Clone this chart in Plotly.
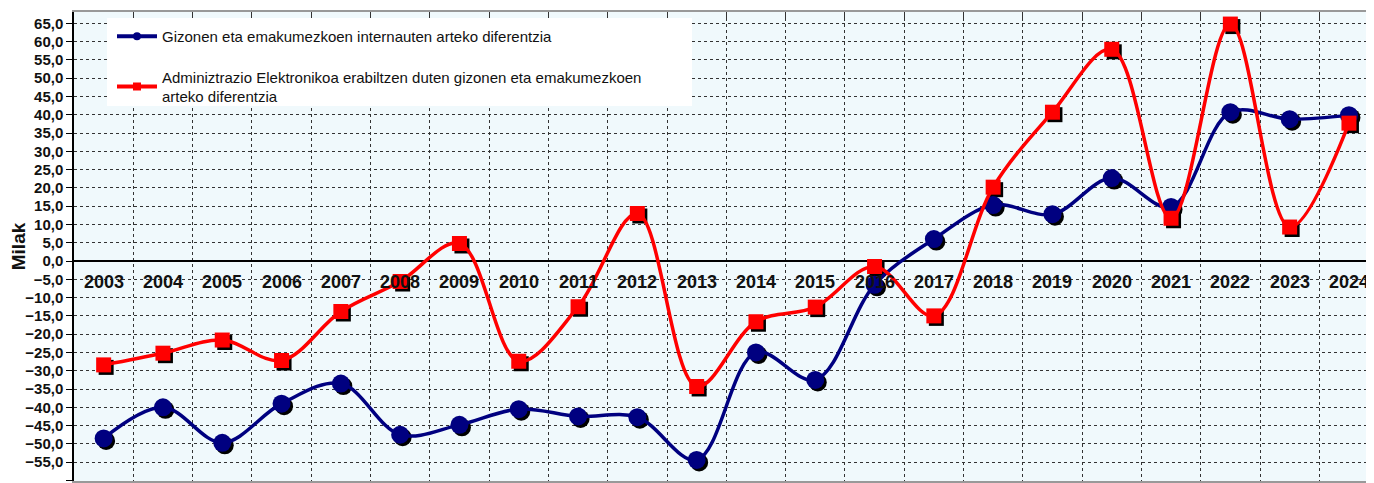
import plotly.graph_objects as go

# ---------------------------------
# Data
# ---------------------------------

years = [str(y) for y in range(2003, 2025)]

internauts_diff = [
    -48.5, -40.0, -49.7, -39.0, -33.5, -47.5, -44.8, -40.5, -42.5, -42.7, -54.4,
    -25.0, -32.5, -6.5, 6.0, 15.3, 12.8, 22.7, 14.8, 40.7, 38.8, 39.9
]

eadmin_diff = [
    -28.4, -25.2, -21.6, -27.2, -13.8, -5.6, 4.8, -27.4, -12.5, 13.0, -34.3,
    -16.6, -12.6, -1.5, -15.0, 20.2, 40.7, 57.9, 11.7, 64.8, 9.3, 37.7
]

name_internauts = "Gizonen eta emakumezkoen internauten arteko diferentzia"
name_eadmin = ("Adminiztrazio Elektronikoa erabiltzen duten gizonen eta emakumezkoen"
               "<br>arteko diferentzia")

BLUE = "#000080"
RED = "#FF0000"
FONT = "Liberation Sans"

# ---------------------------------
# Layout geometry (page pixels; the page body adds an 8px offset)
# ---------------------------------

OFF = 8
PAGE_W, PAGE_H = 1374, 483
W, H = PAGE_W - OFF, PAGE_H - OFF
plot_left, plot_top, plot_bottom = 74, 12, 481

M_L = plot_left - OFF
M_T = plot_top - OFF
M_B = PAGE_H - plot_bottom
M_R = 0
plot_w = W - M_L - M_R
plot_h = H - M_T - M_B

cat_px = 59.3
x_range = [-0.5, -0.5 + plot_w / cat_px]
y_range = [-60.15, 68.1]
unit_px = plot_h / (y_range[1] - y_range[0])

shadow_px = 2.5
dx = shadow_px / cat_px
dy = shadow_px / unit_px

fig = go.Figure()

# shadows under the markers (own axes, shifted a couple of pixels)
for vals, sym, size in [(internauts_diff, "circle", 18), (eadmin_diff, "square", 15)]:
    fig.add_trace(go.Scatter(
        x=years, y=vals, mode="markers",
        marker=dict(symbol=sym, size=size, color="black"),
        xaxis="x2", yaxis="y2", showlegend=False, hoverinfo="skip"
    ))

# main series
fig.add_trace(go.Scatter(
    x=years, y=internauts_diff, mode="lines+markers",
    line=dict(color=BLUE, width=3.5, shape="spline", smoothing=1),
    marker=dict(symbol="circle", size=18, color=BLUE),
    xaxis="x3", yaxis="y3", showlegend=False
))
fig.add_trace(go.Scatter(
    x=years, y=eadmin_diff, mode="lines+markers",
    line=dict(color=RED, width=3.5, shape="spline", smoothing=1),
    marker=dict(symbol="square", size=15, color=RED),
    xaxis="x3", yaxis="y3", showlegend=False
))

# legend entries
fig.add_trace(go.Scatter(
    x=[None], y=[None], mode="lines+markers", name=name_internauts,
    line=dict(color=BLUE, width=4), marker=dict(symbol="circle", size=8, color=BLUE),
    legendgroup="a"
))
fig.add_trace(go.Scatter(
    x=[None], y=[None], mode="lines+markers", name=name_eadmin,
    line=dict(color=RED, width=4), marker=dict(symbol="square", size=8, color=RED),
    legendgroup="b"
))

# category labels just under the zero line
for i, yr in enumerate(years):
    fig.add_annotation(
        x=i, y=0, xref="x", yref="y", text=f"<b>{yr}</b>",
        showarrow=False, yanchor="top", yshift=-9,
        font=dict(family=FONT, size=18, color="#111111")
    )

# white legend box
fig.add_shape(
    type="rect", xref="paper", yref="paper",
    x0=(107 - plot_left) / plot_w, x1=(692 - plot_left) / plot_w,
    y0=1 - (106 - plot_top) / plot_h, y1=1 - (18 - plot_top) / plot_h,
    fillcolor="white", line=dict(width=0), layer="above"
)

grid = dict(showgrid=True, gridcolor="#333333", griddash="dot", gridwidth=1)

fig.update_layout(
    width=W, height=H,
    margin=dict(l=M_L, r=M_R, t=M_T, b=M_B),
    paper_bgcolor="white",
    plot_bgcolor="#F0F9FC",
    separators=",.",
    font=dict(family=FONT, color="#111111"),
    showlegend=True,
    legend=dict(
        x=(112 - plot_left) / plot_w, y=1 - (20 - plot_top) / plot_h,
        xanchor="left", yanchor="top",
        bgcolor="rgba(0,0,0,0)", borderwidth=0,
        font=dict(family=FONT, size=15, color="#111111"),
        tracegroupgap=18, itemwidth=40
    ),
    xaxis=dict(
        type="category", categoryorder="array", categoryarray=years,
        range=x_range, side="top", showticklabels=False, automargin=False,
        ticks="inside", ticklen=7, tickcolor="#333333", tickson="boundaries",
        showline=True, linecolor="#999999", linewidth=2, mirror=True,
        zeroline=False, **grid
    ),
    yaxis=dict(
        range=y_range, dtick=5, tick0=0, tickformat=".1f", automargin=False,
        ticks="outside", ticklen=6, tickcolor="black",
        tickfont=dict(family=FONT, size=15, color="#111111", weight="bold"),
        showline=True, linecolor="black", linewidth=1.5,
        zeroline=True, zerolinecolor="black", zerolinewidth=1.5,
        title=dict(text="<b>Milak</b>", font=dict(family=FONT, size=19, color="#111111"),
                   standoff=6),
        **grid
    ),
    xaxis2=dict(
        type="category", categoryorder="array", categoryarray=years,
        range=[x_range[0] - dx, x_range[1] - dx], overlaying="x", visible=False
    ),
    yaxis2=dict(
        range=[y_range[0] + dy, y_range[1] + dy], overlaying="y", visible=False
    ),
    xaxis3=dict(
        type="category", categoryorder="array", categoryarray=years,
        range=x_range, overlaying="x", visible=False
    ),
    yaxis3=dict(range=y_range, overlaying="y", visible=False),
)

fig.write_html("out.html")
